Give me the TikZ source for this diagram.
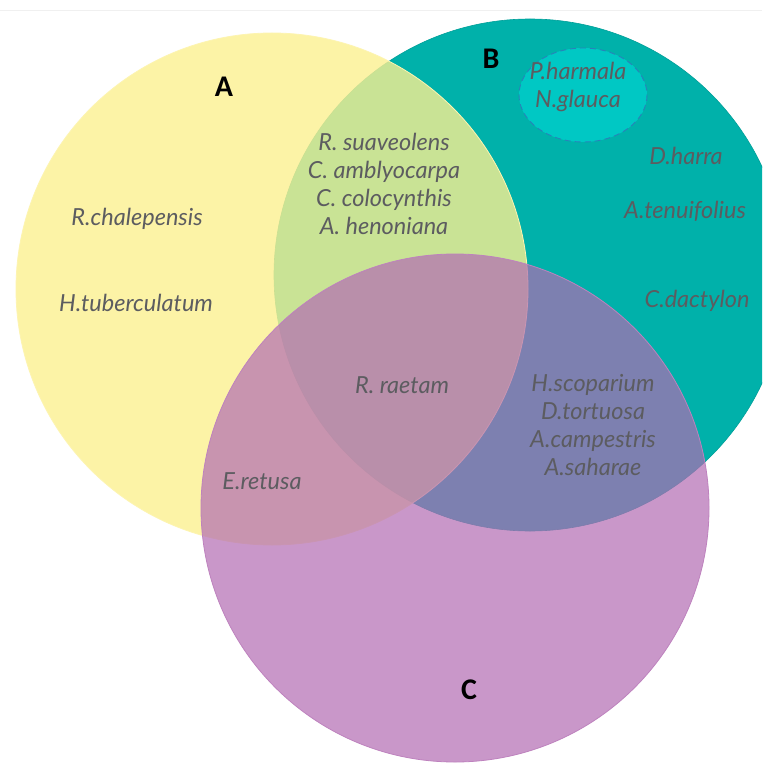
\documentclass[tikz,border=0pt]{standalone}
\usepackage{fontspec}
\setmainfont{Lato}
\newfontfamily\labfont{Carlito}
\definecolor{yelA}{RGB}{252,240,144}
\definecolor{tealB}{RGB}{0,177,170}
\definecolor{purpC}{RGB}{179,108,179}
\definecolor{innerB}{RGB}{0,200,196}
\definecolor{dashB}{RGB}{40,130,185}
\definecolor{spec}{RGB}{92,92,96}
\tikzset{
  sp/.style={text=spec,font=\fontsize{23.5}{28}\selectfont\itshape,align=center,inner sep=0pt},
  setlab/.style={font=\fontsize{30}{30}\selectfont\labfont\bfseries,inner sep=0pt}
}
\begin{document}
\begin{tikzpicture}[x=1pt,y=-1pt]
\useasboundingbox (0,0) rectangle (762,770);
\clip (0,0) rectangle (762,770);
\fill[white] (0,0) rectangle (762,770);
\draw[black!6] (0,10)--(762,10);
% the three sets
\draw[fill=tealB,draw=tealB!90!black,line width=.6pt] (530,275) circle (256);
\draw[fill=yelA,draw=yelA!70!white,fill opacity=.8,line width=.8pt] (272,289) circle (256);
\draw[fill=purpC,draw=purpC!85!white,fill opacity=.7,line width=.8pt] (455,508) circle (254);
% the small group inside B
\draw[fill=innerB,draw=dashB,dash pattern=on 6pt off 4pt,line width=.9pt] (583,95) ellipse (64 and 47);
\node[sp] (ph) at (578,87) {P.harmala\\N.glauca};
% labels of the sets
\node[setlab] (la) at (224,87) {A};
\node[setlab] (lb) at (491,59) {B};
\node[setlab] (lc) at (469,690) {C};
% species
\node[sp] (rch) at (137,219) {R.chalepensis};
\node[sp] (htu) at (136,303) {H.tuberculatum};
\node[sp] (ab) at (384,184) {R. suaveolens\\C. amblyocarpa\\C. colocynthis\\A. henoniana};
\node[sp] (dh) at (686,156) {D.harra};
\node[sp] (ate) at (685,211) {A.tenuifolius};
\node[sp] (cda) at (697,301) {C.dactylon};
\node[sp] (rra) at (402,385) {R. raetam};
\node[sp] (bc) at (593,425) {H.scoparium\\D.tortuosa\\A.campestris\\A.saharae};
\node[sp] (ere) at (262,481) {E.retusa};
\end{tikzpicture}
\end{document}
